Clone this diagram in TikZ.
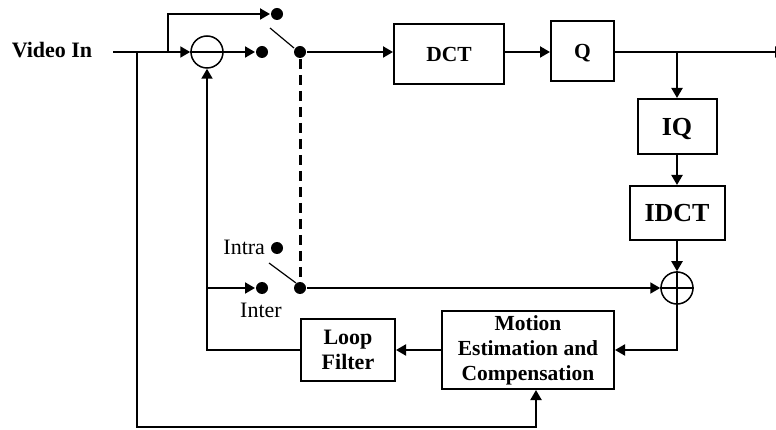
\documentclass[tikz,border=0pt]{standalone}
\usepackage{fontspec}
\setmainfont{Liberation Serif}
\usetikzlibrary{arrows.meta}

\begin{document}
\begin{tikzpicture}[x=1pt,y=-1pt,line width=2pt,>={Triangle[length=10pt,width=11pt]},
	blk/.style={draw,line width=2pt,inner sep=0pt,align=center,font=\bfseries\fontsize{21.5}{25}\selectfont},
	dot/.style={circle,fill,inner sep=0pt,minimum size=12pt},
	sum/.style={circle,draw,line width=1.5pt,inner sep=0pt,minimum size=32pt},
	lbl/.style={inner sep=0pt,font=\fontsize{22}{24}\selectfont}]
			\useasboundingbox (0,0) rectangle (776,430);
			\node[lbl,font=\bfseries\fontsize{22}{24}\selectfont] (vin) at (52,50) {Video In};
			\coordinate (vs) at (113,52);
			\coordinate (bd) at (137,52);
			\coordinate (bu) at (168,52);
			\coordinate (bot) at (137,427);
			\node[sum] (sub) at (207,52) {};
			\node[dot] (ta) at (277,14) {};
			\node[dot] (tb) at (262,52) {};
			\node[dot] (tp) at (300,52) {};
			\node[blk,minimum width=110pt,minimum height=60pt] (dct) at (449,54) {DCT};
			\node[blk,minimum width=63pt,minimum height=60pt,text depth=0pt] (q) at (582.5,51) {Q};
			\coordinate (out) at (785,52);
			\coordinate (bq) at (677,52);
			\node[blk,minimum width=79pt,minimum height=55pt,text depth=0pt,font=\bfseries\fontsize{26}{30}\selectfont] (iq) at (677,126.5) {IQ};
			\node[blk,minimum width=95pt,minimum height=54pt,font=\bfseries\fontsize{26}{30}\selectfont] (idct) at (677,213) {IDCT};
			\node[sum] (add) at (677,288) {};
			\node[dot] (intra) at (277,248) {};
			\node[dot] (inter) at (262,288) {};
			\node[dot] (ip) at (300,288) {};
			\coordinate (bi) at (207,288);
			\node[lbl,anchor=east] (intral) at (266,247) {Intra};
			\node[lbl] (interl) at (261,310) {Inter};
			\node[blk,minimum width=172pt,minimum height=78pt,font=\bfseries\fontsize{21.5}{25}\selectfont] (me) at (528,350) {Motion\\Estimation and\\Compensation};
			\node[blk,minimum width=94pt,minimum height=62pt,font=\bfseries\fontsize{22}{25}\selectfont] (lf) at (348,350) {Loop\\Filter};
			\draw (vs) -- (bd);
			\draw[->] (bd) -- (sub);
			\draw[->] (bu) |- (ta);
			\draw[line width=1.5pt] (sub.west) -- (sub.east);
			\draw[->] (sub) -- (tb);
			\draw[line width=1.2pt] ([shift={(-30,-24)}]tp.center) -- ([shift={(-6,-4)}]tp.center);
			\draw[->] (tp) -- (tp -| dct.west);
			\draw[->] (dct.east |- tp) -- (q.west |- tp);
			\draw[->] (q.east |- tp) -- (out);
			\draw[->] (bq) -- (iq);
			\draw[->] (iq) -- (idct);
			\draw[->] (idct) -- (add);
			\draw[line width=1.5pt] (add.north) -- (add.south) (add.west) -- (add.east);
			\draw[line width=3pt,dash pattern=on 10pt off 6pt] (tp) -- (ip);
			\draw[->] (ip) -- (add);
			\draw[->] (add) |- (me);
			\draw[->] (me) -- (lf);
			\draw[->] (lf) -| (sub);
			\draw[->] (bi) -- (inter);
			\draw[line width=1.2pt] ([shift={(-31,-25)}]ip.center) -- ([shift={(-4,-5)}]ip.center);
			\draw[->] (bd) -- (bot) -| ([xshift=8pt]me.south);
	\end{tikzpicture}
\end{document}
